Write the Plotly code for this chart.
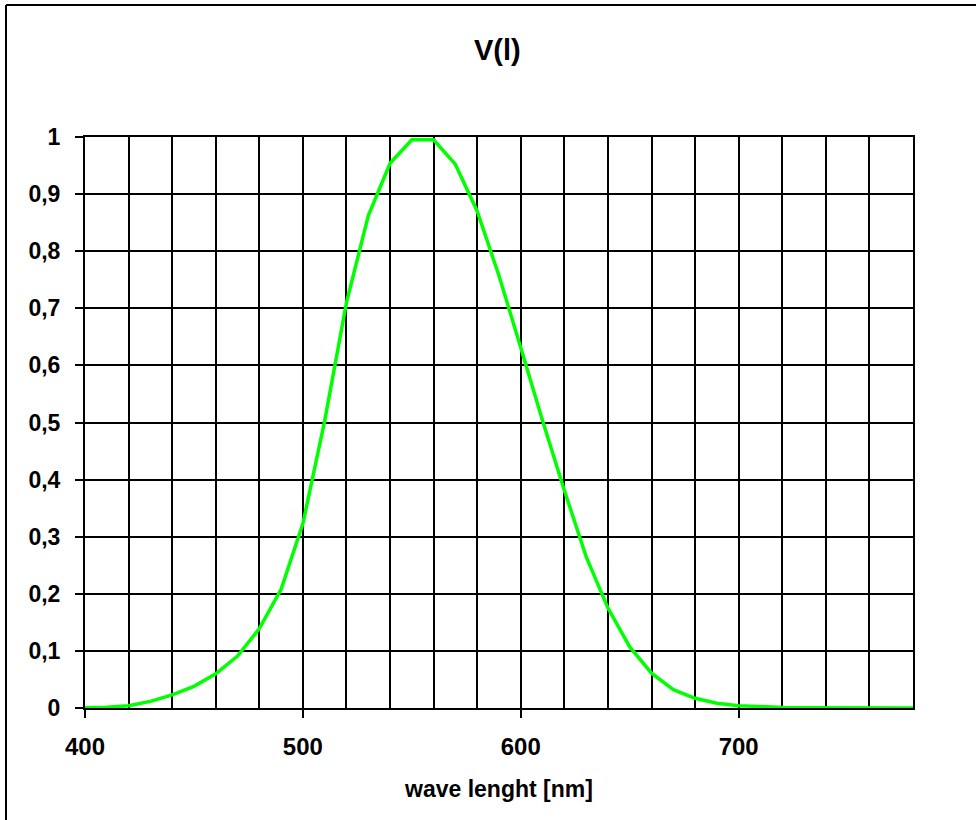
import plotly.graph_objects as go

wavelength = [400, 410, 420, 430, 440, 450, 460, 470, 480, 490, 500, 510, 520, 530, 540,
              550, 560, 570, 580, 590, 600, 610, 620, 630, 640, 650, 660, 670, 680, 690,
              700, 710, 720, 730, 740, 750, 760, 770, 780]
v_lambda = [0.0004, 0.0012, 0.004, 0.0116, 0.023, 0.038, 0.06, 0.091, 0.139, 0.208,
            0.323, 0.503, 0.71, 0.862, 0.954, 0.995, 0.995, 0.952, 0.87, 0.757,
            0.631, 0.503, 0.381, 0.265, 0.175, 0.107, 0.061, 0.032, 0.017, 0.0082,
            0.0041, 0.0021, 0.00105, 0.00052, 0.00025, 0.00012, 0.00006, 0.00003, 0.000015]
x_tickvals = [400, 500, 600, 700]
x_ticktext = ["400", "500", "600", "700"]
y_tickvals = [0, 0.1, 0.2, 0.3, 0.4, 0.5, 0.6, 0.7, 0.8, 0.9, 1]
y_ticktext = ["0", "0,1", "0,2", "0,3", "0,4", "0,5", "0,6", "0,7", "0,8", "0,9", "1"]
title_text = "V(l)"
x_title_text = "wave lenght [nm]"

W, H = 976, 820
L, R, T, B = 85, 63, 137, 112
pw, ph = W - L - R, H - T - B

def px_x(p):
    return (p - L) / pw

def px_y(p):
    return (H - B - p) / ph

font_family = "Liberation Sans, Arial, sans-serif"

fig = go.Figure()
fig.add_trace(go.Scatter(x=wavelength, y=v_lambda, mode="lines",
                         line=dict(color="#00FF00", width=3.5), showlegend=False,
                         hoverinfo="skip"))

fig.update_layout(
    width=W, height=H,
    margin=dict(l=L, r=R, t=T, b=B),
    paper_bgcolor="white", plot_bgcolor="white",
    font=dict(family=font_family, color="black", size=20, weight="bold"),
    xaxis=dict(range=[400, 780], tickvals=x_tickvals, ticktext=x_ticktext,
               ticks="outside", ticklen=8, tickwidth=2, tickcolor="black",
               ticklabelstandoff=8,
               showgrid=True, gridcolor="black", gridwidth=2,
               minor=dict(dtick=20, tick0=400, showgrid=True, gridcolor="black",
                          gridwidth=2, ticks=""),
               showline=True, linecolor="black", linewidth=2, mirror=True,
               zeroline=False, tickfont=dict(size=24, weight="bold")),
    yaxis=dict(range=[0, 1], tickvals=y_tickvals, ticktext=y_ticktext,
               ticks="outside", ticklen=8, tickwidth=2, tickcolor="black",
               ticklabelstandoff=10,
               showgrid=True, gridcolor="black", gridwidth=2,
               showline=True, linecolor="black", linewidth=2, mirror=True,
               zeroline=False, tickfont=dict(size=23, weight="bold")),
    annotations=[
        dict(text=title_text, x=px_x(497), y=px_y(50), xref="paper", yref="paper",
             showarrow=False, xanchor="center", yanchor="middle",
             font=dict(size=29, weight="bold")),
        dict(text=x_title_text, x=px_x(498), y=px_y(789), xref="paper", yref="paper",
             showarrow=False, xanchor="center", yanchor="middle",
             font=dict(size=23, weight="bold")),
    ],
    shapes=[
        dict(type="line", xref="paper", yref="paper", x0=px_x(6), x1=px_x(990),
             y0=px_y(5), y1=px_y(5), line=dict(color="black", width=2)),
        dict(type="line", xref="paper", yref="paper", x0=px_x(6), x1=px_x(6),
             y0=px_y(5), y1=px_y(830), line=dict(color="black", width=2)),
    ],
)

fig.write_html("out.html")
